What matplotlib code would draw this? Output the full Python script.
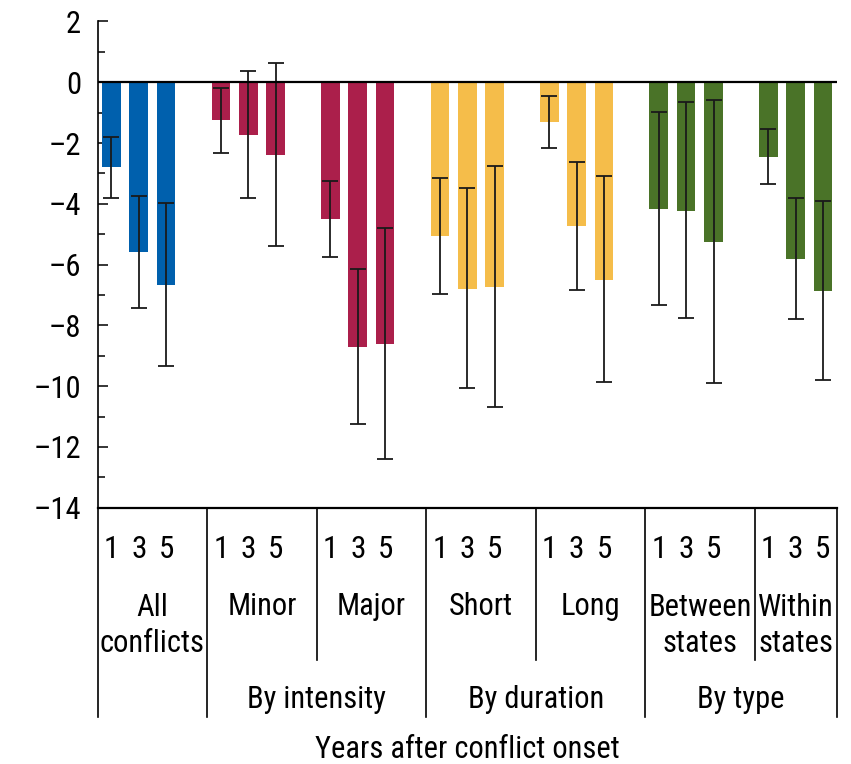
import matplotlib
matplotlib.use("Agg")
import matplotlib.pyplot as plt
import matplotlib.transforms as mtransforms
import numpy as np

plt.rcParams['font.family'] = ['Roboto Condensed', 'Liberation Sans', 'DejaVu Sans']

groups = ["All\nconflicts", "Minor", "Major", "Short", "Long", "Between\nstates", "Within\nstates"]
supergroups = ["", "By intensity", "By duration", "By type"]
years = ["1", "3", "5"]
colors = ["#0060AD", "#AB1F4B", "#AB1F4B", "#F5BD4A", "#F5BD4A", "#4A7328", "#4A7328"]

values = [
    [-2.80, -5.58, -6.66],
    [-1.23, -1.73, -2.39],
    [-4.50, -8.71, -8.60],
    [-5.05, -6.79, -6.73],
    [-1.30, -4.72, -6.50],
    [-4.16, -4.22, -5.24],
    [-2.45, -5.80, -6.86],
]
ci_upper = [
    [-1.80, -3.73, -3.97],
    [-0.18, 0.38, 0.63],
    [-3.25, -6.14, -4.79],
    [-3.16, -3.48, -2.76],
    [-0.45, -2.61, -3.08],
    [-0.97, -0.65, -0.58],
    [-1.53, -3.82, -3.92],
]
ci_lower = [
    [-3.80, -7.43, -9.34],
    [-2.32, -3.81, -5.39],
    [-5.75, -11.25, -12.40],
    [-6.97, -10.07, -10.67],
    [-2.17, -6.83, -9.85],
    [-7.34, -7.77, -9.88],
    [-3.36, -7.79, -9.81],
]
yticks = [-14, -12, -10, -8, -6, -4, -2, 0, 2]

W, H = 851, 764
fig = plt.figure(figsize=(W / 100, H / 100), dpi=100)
ax = fig.add_axes([97.7 / W, 1 - 507.7 / H, (836.7 - 97.7) / W, (507.7 - 21.5) / H])

slot = 4
for g in range(len(groups)):
    xs = g * slot + np.arange(3) + 0.5
    v = np.array(values[g])
    up = np.array(ci_upper[g])
    lo = np.array(ci_lower[g])
    ax.bar(xs, v, width=0.68, color=colors[g], zorder=2)
    ax.errorbar(xs, v, yerr=[v - lo, up - v], fmt='none', ecolor='#1a1a1a',
                elinewidth=1.3, capsize=6, capthick=1.3, zorder=3)

ax.set_xlim(0, slot * (len(groups) - 1) + 3)
ax.set_ylim(-14, 2)
ax.axhline(0, color='black', lw=1.6, zorder=4)

ax.set_yticks(yticks)
ax.set_yticks(np.arange(-13, 2, 2), minor=True)
ax.set_yticklabels([str(t).replace('-', '\u2013') for t in yticks])
ax.tick_params(axis='y', which='major', direction='in', length=7, width=1.1, labelsize=22, pad=12)
ax.tick_params(axis='y', which='minor', direction='in', length=5, width=1.1)
ax.set_xticks([])
for s in ['top', 'right']:
    ax.spines[s].set_visible(False)
ax.spines['left'].set_linewidth(1.2)
ax.spines['bottom'].set_linewidth(1.6)

# category table below the axis
trans = mtransforms.blended_transform_factory(ax.transData, fig.transFigure)
def fy(px):
    return 1 - px / H

xmax = slot * (len(groups) - 1) + 3
bounds = [g * slot for g in range(len(groups))] + [xmax]
long_lines = [0, 4, 12, 20, xmax]
for b in bounds:
    bottom = 717 if b in long_lines else 660
    ax.plot([b, b], [fy(507.7), fy(bottom)], color='black', lw=1.2,
            transform=trans, clip_on=False)

for g in range(len(groups)):
    xs = g * slot + np.arange(3) + 0.5
    for x, yl in zip(xs, years):
        ax.text(x, fy(557.5), yl, transform=trans, ha='center', va='baseline', fontsize=22.5)
    center = (bounds[g] + bounds[g + 1]) / 2
    nlines = groups[g].count("\n") + 1
    ax.text(center, fy(615 + (nlines - 1) * 36.7), groups[g], transform=trans,
            ha='center', va='baseline', fontsize=22, linespacing=1.3)

sup_spans = [(0, 4), (4, 12), (12, 20), (20, xmax)]
for (a, b), lab in zip(sup_spans, supergroups):
    if lab:
        ax.text((a + b) / 2, fy(699), lab, transform=trans, ha='center', va='center', fontsize=22)

ax.text((0 + xmax) / 2, fy(749), "Years after conflict onset", transform=trans,
        ha='center', va='center', fontsize=22)

fig.savefig("out.png", dpi=100)
